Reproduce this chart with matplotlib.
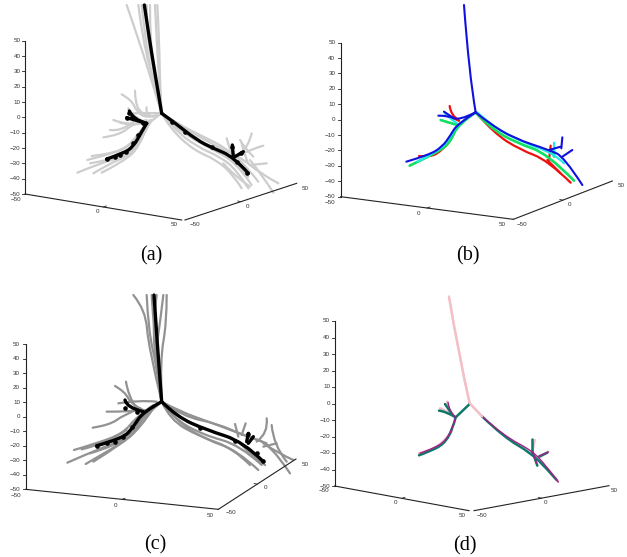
import matplotlib
matplotlib.use("Agg")
import matplotlib.pyplot as plt
from matplotlib.path import Path
from matplotlib.patches import PathPatch

W, H = 627, 557
GRAY_A, GRAY_C = "#cdcdcd", "#929292"
RED, GREEN, CYAN, BLUE = "#f01010", "#10e060", "#20e8e8", "#1010e0"
PINK, PURPLE, TEAL = "#f4c0c8", "#a0208c", "#107868"

# Every curve is a list of projected (horizontal, vertical) readings.
a_gray = [
    [(380,15),(420,130),(460,260),(485,340)], [(415,15),(428,120),(465,260),(485,340)],
    [(450,15),(450,130),(470,260),(485,340)], [(465,15),(470,120),(478,250),(485,340)],
    [(472,15),(478,130),(480,260),(485,340)], [(440,15),(440,100),(462,220),(485,340)],
    [(425,15),(435,110),(455,230),(485,340)],
    [(365,283),(395,300),(410,335),(440,355),(470,345)], [(405,272),(405,300),(420,340),(450,350)],
    [(310,412),(360,405),(400,370),(440,360)], [(330,390),(365,395),(400,365)],
    [(340,360),(380,375),(420,370)], [(440,322),(435,345),(460,350)], [(400,340),(440,338),(485,340)],
    [(360,368),(400,378),(435,368)], [(385,325),(395,350),(440,368)],
    [(232,518),(300,490),(370,470),(410,430),(440,370),(485,340)],
    [(262,480),(320,465),(380,445),(420,400),(450,360)],
    [(280,520),(330,490),(390,465),(425,420),(450,365)],
    [(305,518),(370,485),(420,440),(445,370)],
    [(275,468),(330,462),(385,440),(415,400),(445,365)],
    [(270,490),(340,478),(400,450),(430,400),(455,360)],
    [(485,340),(520,385),(590,440),(660,470),(710,510),(745,565)],
    [(485,340),(510,385),(580,450),(650,480),(700,525),(725,565)],
    [(485,340),(530,370),(610,410),(680,445),(740,500),(775,545)],
    [(485,340),(540,375),(630,430),(720,470),(780,520),(835,550)],
    [(485,340),(515,375),(600,430),(670,462),(725,510),(755,555)],
    [(485,340),(535,385),(620,440),(700,480),(745,530)],
    [(670,490),(700,525),(750,560)], [(820,578),(790,530),(750,480)],
    [(755,400),(745,440),(720,465)], [(790,437),(745,450),(710,470)],
    [(680,415),(690,450),(700,475)], [(725,430),(735,470),(745,490)], [(800,490),(750,495)],
    [(720,420),(735,445),(760,470)],
]
a_black = [
    [(433,15),(447,110),(465,220),(485,340)],
    [(440,370),(425,395),(400,440),(370,460),(320,477)],
    [(440,370),(400,360),(388,333)], [(440,370),(380,353)],
    [(485,340),(520,365),(590,420),(640,445),(700,470),(745,520)],
    [(700,470),(697,435)], [(705,470),(730,455)],
]
a_blobs = [(320,477),(345,470),(360,465),(378,455),(400,430),(415,405),(388,340),(380,353),(395,350),
           (430,370),(515,365),(555,395),(635,440),(697,440),(722,460),(712,485),(742,518)]
b_red = [
    [(485,337),(430,372),(415,415),(385,450),(350,472),(315,468)],
    [(435,362),(410,345),(407,318)], [(435,362),(395,345)],
    [(485,337),(540,400),(620,450),(700,480),(770,548)],
    [(710,437),(705,480)], [(700,480),(738,518)],
]
b_green = [
    [(485,337),(430,375),(410,425),(375,455),(287,497)], [(430,375),(395,365),(380,360)],
    [(485,337),(530,385),(610,430),(700,460),(780,542)], [(715,450),(720,470)],
]
b_cyan = [
    [(485,337),(430,370),(405,420),(370,455),(310,485)], [(430,370),(400,352),(390,335)],
    [(490,337),(530,375),(620,425),(720,460),(750,490)], [(720,428),(722,465)],
]
b_blue = [
    [(450,15),(465,220),(485,337)],
    [(485,337),(430,372),(410,405),(385,440),(345,465),(277,485)],
    [(485,337),(435,362),(405,347),(373,347)], [(420,355),(390,335)],
    [(485,337),(525,370),(600,415),(705,450),(750,470),(805,555)],
    [(740,440),(705,450)], [(745,412),(742,445)], [(775,450),(745,470)],
]
c_gray = [
    [(400,45),(437,90),(445,200),(485,365)], [(440,45),(445,150),(470,260),(485,365)],
    [(500,45),(500,130),(480,240),(485,365)], [(490,45),(480,130),(465,230),(485,365)],
    [(455,45),(465,190),(472,280),(485,365)], [(470,45),(458,140),(468,250),(485,365)],
    [(202,548),(300,505),(370,480),(420,420),(470,375)],
    [(222,510),(290,490),(370,460),(410,410),(460,375)], [(245,508),(320,490),(380,450)],
    [(257,552),(330,510),(400,465),(430,410),(480,370)], [(280,545),(360,495),(420,445),(460,385)],
    [(270,520),(345,498),(405,450),(440,400)],
    [(278,443),(330,435),(370,405),(420,385)], [(345,318),(375,335),(395,375),(440,395)],
    [(378,305),(385,350),(410,385)], [(320,395),(390,395),(440,390)], [(355,370),(420,360),(470,365)],
    [(485,365),(530,425),(620,480),(710,510),(775,570)],
    [(485,365),(510,420),(600,470),(700,505),(750,555)],
    [(485,365),(550,410),(650,430),(740,470),(810,490),(870,580)],
    [(485,365),(540,395),(640,430),(730,465),(800,490)],
    [(485,365),(520,415),(610,465),(720,495),(785,555)],
    [(800,415),(805,460),(770,485)], [(815,435),(820,495),(860,545)],
    [(705,432),(715,470)], [(737,430),(725,465)], [(830,490),(790,500)],
    [(790,490),(835,520),(880,540)], [(720,490),(760,530),(795,555)],
]
c_black = [
    [(462,45),(470,170),(485,365)],
    [(485,365),(430,395),(400,440),(370,475),(290,497)], [(430,395),(380,383),(375,360)],
    [(485,365),(530,410),(620,450),(730,485),(790,545)],
    [(745,460),(740,485)], [(760,470),(745,490)],
]
c_blobs = [(290,497),(320,490),(345,485),(370,470),(395,440),(375,383),(410,395),(600,445),(705,482),
           (745,462),(770,520),(790,543)]
d_pink = [
    [(405,50),(435,230),(467,370)], [(467,370),(505,410)],
    [(425,412),(395,390),(378,385)], [(405,390),(400,365)],
    [(350,510),(315,520)], [(415,450),(390,490),(350,510)],
    [(655,515),(662,480)], [(680,530),(703,515)], [(700,565),(732,605)],
]
d_teal = [
    [(467,372),(425,412)], [(425,412),(415,450),(390,492),(350,513),(315,526)],
    [(425,412),(395,394),(375,392)], [(412,400),(393,372)],
    [(505,410),(570,472),(650,518),(700,568),(728,600)],
    [(655,515),(655,478)], [(655,515),(670,557)], [(675,530),(700,518)],
]
d_purple = [
    [(425,412),(415,448),(390,488),(350,508),(318,520)], [(425,412),(405,392),(402,367)],
    [(505,410),(570,468),(655,512),(700,562),(733,606)],
    [(655,515),(668,550)], [(675,528),(703,516)],
]
z_ticks = [50, 40, 30, 20, 10, 0, -10, -20, -30, -40, -50]
side_labels = ["\u221250", "0", "50"]
z_labels = [str(t).replace("-", "\u2212") for t in z_ticks]

panels = [
 dict(box=(0,0,314,270), z=(75,122,582), l=(545,660), r=((555,660),(890,550)), zlab=62,
      ll=[(48,598),(291,635),(523,675)], rl=[(585,672),(741,620),(915,565)], cap=("(a)",(455,768)),
      series=[(a_gray,GRAY_A,1.6),(a_black,"black",2.4)], blobs=a_blobs),
 dict(box=(314,0,313,270), z=(80,128,590), l=(598,658), r=((598,658),(895,543)), zlab=64,
      ll=[(47,607),(313,641),(565,673)], rl=[(625,672),(766,614),(921,557)], cap=("(b)",(462,768)),
      series=[(b_red,RED,1.6),(b_green,GREEN,1.9),(b_cyan,CYAN,1.5),(b_blue,BLUE,1.5)], blobs=[]),
 dict(box=(0,280,314,277), z=(77,192,628), l=(655,688), r=((655,688),(888,537)), zlab=60,
      ll=[(47,646),(345,677),(630,706)], rl=[(692,698),(796,622),(915,552)], cap=("(c)",(467,795)),
      series=[(c_gray,GRAY_C,1.6),(c_black,"black",2.4)], blobs=c_blobs),
 dict(box=(314,280,313,277), z=(62,123,618), l=(465,692), r=((480,692),(885,617)), zlab=48,
      ll=[(30,632),(243,668),(445,707)], rl=[(503,707),(695,668),(901,632)], cap=("(d)",(452,798)),
      series=[(d_pink,PINK,1.8),(d_teal,TEAL,1.8),(d_purple,PURPLE,1.0),(d_pink[:2],PINK,1.4)], blobs=[]),
]


def smooth_path(c):
    """Quadratic Bezier path that uses the read points as control points."""
    if len(c) < 3:
        return Path(c)
    verts, codes = [c[0]], [Path.MOVETO]
    for i in range(1, len(c)-1):
        end = c[i+1] if i == len(c)-2 else ((c[i][0]+c[i+1][0])/2, (c[i][1]+c[i+1][1])/2)
        verts += [c[i], end]
        codes += [Path.CURVE3, Path.CURVE3]
    return Path(verts, codes)


fig = plt.figure(figsize=(W/100, H/100), dpi=100, facecolor="white")
TXT = "#333333"
for p in panels:
    x0, y0, w, h = p["box"]
    ax = fig.add_axes([x0/W, 1-(y0+h)/H, w/W, h/H])
    ax.set_xlim(0, w*3); ax.set_ylim(h*3, 0); ax.axis("off")
    for curves, col, lw in p["series"]:
        for c in curves:
            ax.add_patch(PathPatch(smooth_path(c), fc="none", ec=col, lw=lw,
                                   capstyle="round", joinstyle="round"))
    if p["blobs"]:
        ax.scatter([q[0] for q in p["blobs"]], [q[1] for q in p["blobs"]], s=11, c="black", lw=0, zorder=5)
    zx, zt, zb = p["z"]
    ax.plot([zx, zx], [zt, zb], color="#222222", lw=0.8)
    ax.plot([zx, p["l"][0]], [zb, p["l"][1]], color="#222222", lw=0.8)
    ax.plot([p["r"][0][0], p["r"][1][0]], [p["r"][0][1], p["r"][1][1]], color="#222222", lw=0.8)
    for i, lab in enumerate(z_labels):
        y = zt + (zb-zt)*i/10
        ax.plot([zx-8, zx], [y, y], color="#222222", lw=0.6)
        ax.text(p["zlab"], y, lab, ha="right", va="center", fontsize=4.5, color=TXT, family="Liberation Sans")
    (rs, re) = p["r"]
    mids = [((zx+p["l"][0])/2, (zb+p["l"][1])/2), ((rs[0]+re[0])/2, (rs[1]+re[1])/2)]
    ax.plot([mids[0][0], mids[0][0]+9], [mids[0][1], mids[0][1]-3], color="#222222", lw=0.6)
    ax.plot([mids[1][0], mids[1][0]-9], [mids[1][1], mids[1][1]-2], color="#222222", lw=0.6)
    for lab, pos in zip(side_labels*2, p["ll"]+p["rl"]):
        ax.text(pos[0], pos[1], lab, ha="center", va="center", fontsize=4.5, color=TXT, family="Liberation Sans")
    ax.text(p["cap"][1][0], p["cap"][1][1], p["cap"][0], ha="center", va="center",
            fontsize=14.5, family="Liberation Serif", color="black")
fig.savefig("out.png", dpi=100)
